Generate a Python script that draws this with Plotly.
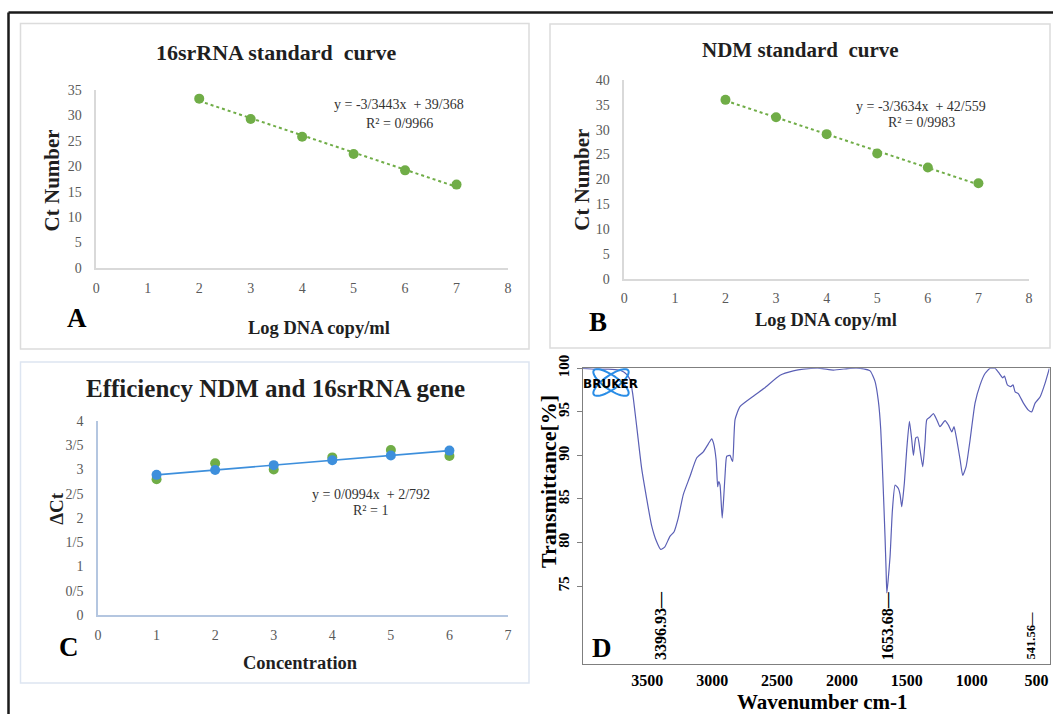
import numpy as np
import plotly.graph_objects as go

W, H = 1053, 714

# ---------------- data ----------------
log_dna = [2, 3, 4, 5, 6, 7]
ct_16s = [33.3, 29.3, 25.8, 22.4, 19.2, 16.4]
ct_ndm = [36.0, 32.5, 29.1, 25.2, 22.4, 19.2]

conc = [1, 2, 3, 4, 5, 6]
dct_green = [2.80, 3.13, 3.00, 3.25, 3.40, 3.28]
dct_blue = [2.89, 2.99, 3.09, 3.19, 3.29, 3.39]
c_tickvals = [0, 0.5, 1, 1.5, 2, 2.5, 3, 3.5, 4]
c_ticktext = ["0", "0/5", "1", "1/5", "2", "2/5", "3", "3/5", "4"]

wavenumber = [4000, 3900, 3800, 3720, 3685, 3660, 3634, 3613, 3582, 3544, 3506, 3468, 3429,
              3397, 3365, 3326, 3295, 3262, 3223, 3171, 3120, 3069, 3031, 3004, 2990, 2970,
              2958, 2950, 2940, 2923, 2910, 2900, 2888, 2863, 2850, 2842, 2824, 2786, 2683,
              2600, 2477, 2375, 2298, 2169, 2066, 1938, 1860, 1783, 1745, 1719, 1701, 1685,
              1668, 1660, 1654, 1645, 1629, 1611, 1590, 1565, 1552, 1539, 1519, 1501, 1480,
              1462, 1449, 1431, 1416, 1398, 1377, 1359, 1346, 1321, 1295, 1269, 1244, 1205,
              1180, 1153, 1136, 1115, 1089, 1069, 1043, 1012, 974, 935, 897, 858, 820, 786,
              760, 747, 725, 699, 681, 665, 641, 601, 563, 537, 511, 473, 434, 401]
transmittance = [100.0, 99.9, 99.9, 99.8, 99.6, 99.3, 98.7, 97.1, 93.3, 88.5, 85.1, 82.0, 80.1,
                 79.2, 79.5, 80.7, 81.2, 82.8, 85.5, 87.6, 89.7, 90.4, 91.3, 91.9, 91.4, 89.5,
                 86.4, 87.0, 86.6, 82.8, 85.5, 88.0, 89.9, 90.0, 89.5, 89.3, 94.1, 95.6, 96.8,
                 97.7, 99.2, 99.7, 99.9, 100.0, 99.8, 100.0, 100.0, 99.7, 98.5, 96.2, 93.0, 87.5,
                 80.7, 77.0, 74.2, 75.5, 78.4, 83.7, 86.6, 86.2, 85.5, 84.1, 86.8, 90.6, 93.9,
                 91.8, 90.0, 92.0, 92.1, 90.6, 88.7, 91.6, 94.1, 94.4, 94.8, 94.1, 93.3, 94.0,
                 93.5, 92.7, 93.3, 91.8, 89.5, 87.7, 88.7, 91.8, 96.0, 98.1, 99.4, 100.0, 100.0, 99.4,
                 98.9, 99.1, 98.1, 97.9, 98.1, 97.3, 97.1, 96.0, 95.2, 95.0, 96.0, 96.7, 98.3, 100.0]
peak_labels = ["3396.93", "1653.68", "541.56"]
peak_positions = [3396.93, 1653.68, 541.56]
d_xticks = [3500, 3000, 2500, 2000, 1500, 1000, 500]
d_yticks = [75, 80, 85, 90, 95, 100]

# ---------------- helpers ----------------
def fx(px):
    return px / W

def fy(py):
    return 1 - py / H

SERIF = "Liberation Serif, Times New Roman, serif"
GREEN = "#70ad47"
BLUE = "#3d8fdc"

fig = go.Figure()

# Panel A
fA = np.polyfit(log_dna, ct_16s, 1)
fig.add_trace(go.Scatter(x=[log_dna[0], log_dna[-1]], y=np.polyval(fA, [log_dna[0], log_dna[-1]]),
                         mode="lines", line=dict(color=GREEN, width=2, dash="dot"),
                         xaxis="x", yaxis="y"))
fig.add_trace(go.Scatter(x=log_dna, y=ct_16s, mode="markers",
                         marker=dict(color=GREEN, size=10), xaxis="x", yaxis="y"))
# Panel B
fB = np.polyfit(log_dna, ct_ndm, 1)
fig.add_trace(go.Scatter(x=[log_dna[0], log_dna[-1]], y=np.polyval(fB, [log_dna[0], log_dna[-1]]),
                         mode="lines", line=dict(color=GREEN, width=2, dash="dot"),
                         xaxis="x2", yaxis="y2"))
fig.add_trace(go.Scatter(x=log_dna, y=ct_ndm, mode="markers",
                         marker=dict(color=GREEN, size=10), xaxis="x2", yaxis="y2"))
# Panel C
fig.add_trace(go.Scatter(x=conc, y=dct_green, mode="markers",
                         marker=dict(color=GREEN, size=10), xaxis="x3", yaxis="y3"))
fig.add_trace(go.Scatter(x=conc, y=dct_blue, mode="lines+markers",
                         line=dict(color=BLUE, width=1.6),
                         marker=dict(color=BLUE, size=10), xaxis="x3", yaxis="y3"))
# Panel D
fig.add_trace(go.Scatter(x=wavenumber, y=transmittance, mode="lines",
                         line=dict(color="#5a5fb5", width=1.2, shape="spline", smoothing=0.5),
                         xaxis="x4", yaxis="y4"))

tick_reg = dict(family=SERIF, size=14, color="#595959")
common = dict(showgrid=False, zeroline=False, showline=True, ticks="",
              tickfont=tick_reg, fixedrange=True, automargin=False)

fig.update_layout(
    width=W, height=H, margin=dict(l=0, r=0, t=0, b=0, autoexpand=False),
    paper_bgcolor="white", plot_bgcolor="white", showlegend=False,
    xaxis=dict(domain=[fx(96.3), fx(508)], range=[0, 8], tickvals=list(range(9)),
               anchor="y", linecolor="#d9d9d9", linewidth=1.5, ticklabelstandoff=6, **common),
    yaxis=dict(domain=[fy(268), fy(90)], range=[0, 35], dtick=5,
               anchor="x", linecolor="#d9d9d9", linewidth=1.5, ticklabelstandoff=10, **common),
    xaxis2=dict(domain=[fx(624.3), fx(1029)], range=[0, 8], tickvals=list(range(9)),
                anchor="y2", linecolor="#d9d9d9", linewidth=1.5, ticklabelstandoff=6, **common),
    yaxis2=dict(domain=[fy(278.7), fy(80)], range=[0, 40], dtick=5,
                anchor="x2", linecolor="#d9d9d9", linewidth=1.5, ticklabelstandoff=10, **common),
    xaxis3=dict(domain=[fx(98), fx(508)], range=[0, 7], tickvals=list(range(8)),
                anchor="y3", linecolor="#b4c6e0", linewidth=1.5, ticklabelstandoff=6, **common),
    yaxis3=dict(domain=[fy(615), fy(421)], range=[0, 4], tickvals=c_tickvals, ticktext=c_ticktext,
                anchor="x3", linecolor="#b4c6e0", linewidth=1.5, ticklabelstandoff=10, **common),
    xaxis4=dict(domain=[fx(582.5), fx(1049.5)], range=[4000, 400], tickvals=d_xticks,
                anchor="y4", showline=True, mirror=True, linecolor="#7f7f7f", linewidth=1,
                showgrid=False, zeroline=False, ticks="", ticklabelstandoff=2, automargin=False,
                tickfont=dict(family=SERIF, size=16, color="black", weight="bold"), fixedrange=True),
    yaxis4=dict(domain=[fy(663.5), fy(368.3)], range=[66.1, 100], tickvals=d_yticks,
                anchor="x4", showline=True, mirror=True, linecolor="#7f7f7f", linewidth=1,
                showgrid=False, zeroline=False, ticks="outside", ticklen=5, tickcolor="#7f7f7f",
                tickangle=-90, ticklabelstandoff=2, automargin=False,
                tickfont=dict(family=SERIF, size=15, color="black", weight="bold"), fixedrange=True),
)

# ---------------- shapes ----------------
shapes = []
# outer black frame (top and left)
shapes.append(dict(type="line", xref="paper", yref="paper", x0=fx(8.5), x1=fx(8.5),
                   y0=fy(714), y1=fy(12.5), line=dict(color="#1a1a1a", width=2.5)))
shapes.append(dict(type="line", xref="paper", yref="paper", x0=fx(8.5), x1=fx(1053),
                   y0=fy(12.5), y1=fy(12.5), line=dict(color="#1a1a1a", width=2.5)))
# panel boxes
for (x0, x1, y0, y1, col) in [(20.5, 529, 349, 23.5, "#dcdcdc"),
                              (550, 1050, 348, 24, "#dcdcdc"),
                              (20.5, 529, 683, 362, "#dde5f1")]:
    shapes.append(dict(type="rect", xref="paper", yref="paper", x0=fx(x0), x1=fx(x1),
                       y0=fy(y0), y1=fy(y1), line=dict(color=col, width=1.5), layer="below"))
# Bruker logo ellipses
t = np.linspace(0, 2 * np.pi, 60)
for ang in (35, -35):
    a, b, cx, cy = 21, 7, 611, 382.5
    th = np.deg2rad(ang)
    ex = cx + a * np.cos(t) * np.cos(th) - b * np.sin(t) * np.sin(th)
    ey = cy + a * np.cos(t) * np.sin(th) + b * np.sin(t) * np.cos(th)
    path = "M " + " L ".join(f"{fx(px):.5f},{fy(py):.5f}" for px, py in zip(ex, ey)) + " Z"
    shapes.append(dict(type="path", xref="paper", yref="paper", path=path,
                       line=dict(color="#2a8de6", width=2)))
fig.update_layout(shapes=shapes)

# ---------------- annotations ----------------
ann = []

def text(px, py, s, size, bold=False, angle=0, color="black", family=SERIF):
    ann.append(dict(x=fx(px), y=fy(py), xref="paper", yref="paper", text=s, showarrow=False,
                    textangle=angle, xanchor="center", yanchor="middle",
                    font=dict(family=family, size=size, color=color,
                              weight="bold" if bold else "normal")))

# Panel A
text(275.6, 53, "16srRNA standard  curve", 22, True, color="#1f1f1f")
text(52.4, 180, "Ct Number", 21, True, -90, "#1f1f1f")
text(319.4, 328, "Log DNA copy/ml", 18.5, True, color="#1f1f1f")
text(77, 318, "A", 27, True)
text(398.8, 104, "y = -3/3443x  + 39/368", 14, color="#333333")
text(399.7, 123, "R² = 0/9966", 14, color="#333333")
# Panel B
text(800, 50, "NDM standard  curve", 21, True, color="#1f1f1f")
text(581.7, 180, "Ct Number", 21, True, -90, "#1f1f1f")
text(825.8, 320, "Log DNA copy/ml", 18.5, True, color="#1f1f1f")
text(598.3, 321.7, "B", 27, True)
text(920.8, 106.7, "y = -3/3634x  + 42/559", 14, color="#333333")
text(921.7, 122.7, "R² = 0/9983", 14, color="#333333")
# Panel C
text(275.6, 388.3, "Efficiency NDM and 16srRNA gene", 25, True, color="#1f1f1f")
text(55.8, 508, "ΔCt", 19, True, -90, "#1f1f1f")
text(300.8, 663.3, "Concentration", 18.5, True, color="#1f1f1f")
text(69.3, 646.7, "C", 27, True)
text(371, 494.3, "y = 0/0994x  + 2/792", 14, color="#333333")
text(370, 510, "R² = 1", 14, color="#333333")
# Panel D
text(822, 702, "Wavenumber cm-1", 21, True)
text(548.3, 481.7, "Transmittance[%]", 22, True, -90)
text(601.7, 647.7, "D", 27, True)
text(610, 383.5, "BRUKER", 12, True, family="DejaVu Sans")
for lab, pos, size in zip(peak_labels, peak_positions, [16, 16, 12.5]):
    ann.append(dict(x=pos, y=66.3, xref="x4", yref="y4", text=lab + "—", showarrow=False,
                    textangle=-90, xanchor="center", yanchor="bottom",
                    font=dict(family=SERIF, size=size, color="black", weight="bold")))

fig.update_layout(annotations=ann)
fig.write_html("out.html")
